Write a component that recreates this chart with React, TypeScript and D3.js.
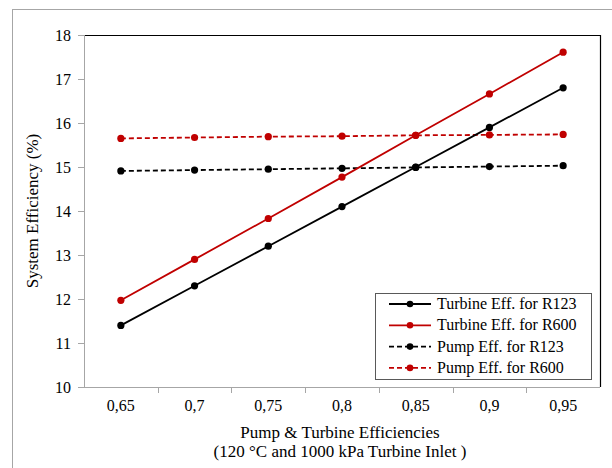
import React from 'react';
import * as d3 from 'd3';

// x categories (efficiency values, shown with comma decimals)
const efficiencies = ['0,65', '0,7', '0,75', '0,8', '0,85', '0,9', '0,95'];
const yTicks = [10, 11, 12, 13, 14, 15, 16, 17, 18];

const turbineR123 = [11.4, 12.3, 13.2, 14.1, 15.0, 15.9, 16.8];
const turbineR600 = [11.97, 12.9, 13.83, 14.77, 15.72, 16.66, 17.61];
const pumpR123 = [14.91, 14.93, 14.95, 14.97, 14.99, 15.01, 15.03];
const pumpR600 = [15.65, 15.67, 15.69, 15.7, 15.72, 15.73, 15.74];

const seriesNames = ['Turbine Eff. for R123', 'Turbine Eff. for R600', 'Pump Eff. for R123', 'Pump Eff. for R600'];

const RED = '#C00000';
const AXIS = '#a6a6a6';

const margin = { top: 35, right: 12, bottom: 81, left: 84 };
const width = 612 - margin.left - margin.right;
const height = 468 - margin.top - margin.bottom;

const txt = (size: number) => ({ fontFamily: 'Liberation Serif', fontSize: size + 'px' });

export default function App() {
  const x = d3.scaleBand().domain(efficiencies).range([0, width]).padding(0);
  const y = d3.scaleLinear().domain([10, 18]).range([height, 0]);
  const cx = (i: number) => x(efficiencies[i])! + x.bandwidth() / 2;
  const line = d3.line<number>().x((d, i) => cx(i)).y((d) => y(d));

  const series = [
    { name: seriesNames[0], values: turbineR123, color: '#000', dash: undefined },
    { name: seriesNames[1], values: turbineR600, color: RED, dash: undefined },
    { name: seriesNames[2], values: pumpR123, color: '#000', dash: '5,3' },
    { name: seriesNames[3], values: pumpR600, color: RED, dash: '5,3' },
  ];
  // pump lines go under the turbine lines
  const drawOrder = [2, 3, 0, 1];

  return (
    <svg width={612} height={468}
      style={{ position: 'absolute', left: 0, top: 0, background: 'white' }}>
      {/* outer chart frame, runs off the right/bottom */}
      <rect x={12.5} y={9.5} width={620} height={480} fill="white" stroke={AXIS} />

      <g transform={`translate(${margin.left},${margin.top})`}>
        {/* top/right frame */}
        <path d={`M0,0.5H${width + 0.5}V${height}`} fill="none" stroke="#000" strokeWidth={1.2} />

        {/* y axis */}
        <line x1={0.5} x2={0.5} y1={0} y2={height} stroke={AXIS} />
        {yTicks.map((t) => (
          <g key={t} transform={`translate(0,${Math.round(y(t)) + 0.5})`}>
            <line x1={-6} x2={0} stroke={AXIS} />
            <text x={-13} y={5} textAnchor="end" style={txt(16)}>{t}</text>
          </g>
        ))}

        {/* x axis, tick marks between categories */}
        <line x1={0} x2={width} y1={height + 0.5} y2={height + 0.5} stroke={AXIS} />
        {efficiencies.slice(1).map((c) => (
          <line key={c} x1={Math.round(x(c)!) + 0.5} x2={Math.round(x(c)!) + 0.5}
            y1={height} y2={height + 6} stroke={AXIS} />
        ))}
        {efficiencies.map((c, i) => (
          <text key={c} x={cx(i)} y={height + 24} textAnchor="middle" style={txt(16)}>{c}</text>
        ))}

        {/* series */}
        {drawOrder.map((k) => {
          const s = series[k];
          return (
            <g key={s.name}>
              <path d={line(s.values)!} fill="none" stroke={s.color} strokeWidth={1.8} strokeDasharray={s.dash} />
              {s.values.map((v, i) => (
                <circle key={i} cx={cx(i)} cy={y(v)} r={3.6} fill={s.color} />
              ))}
            </g>
          );
        })}
      </g>

      {/* axis titles */}
      <text transform={`translate(38,${margin.top + height / 2}) rotate(-90)`} textAnchor="middle"
        style={txt(17)}>System Efficiency (%)</text>
      <text x={margin.left + width / 2 - 2} y={438} textAnchor="middle" style={txt(17)}>
        Pump &amp; Turbine Efficiencies</text>
      <text x={margin.left + width / 2 - 2} y={457} textAnchor="middle" style={txt(17)}>
        (120 °C and 1000 kPa Turbine Inlet )</text>

      {/* legend */}
      <g transform="translate(375,293)">
        <rect x={0.5} y={0.5} width={216} height={86} fill="white" stroke="#595959" />
        {series.map((s, i) => (
          <g key={s.name} transform={`translate(0,${11 + i * 21.3})`}>
            <line x1={14} x2={56} stroke={s.color} strokeWidth={1.8} strokeDasharray={s.dash} />
            <circle cx={35} cy={0} r={3.3} fill={s.color} />
            <text x={62} y={5} style={txt(16)}>{s.name}</text>
          </g>
        ))}
      </g>
    </svg>
  );
}
